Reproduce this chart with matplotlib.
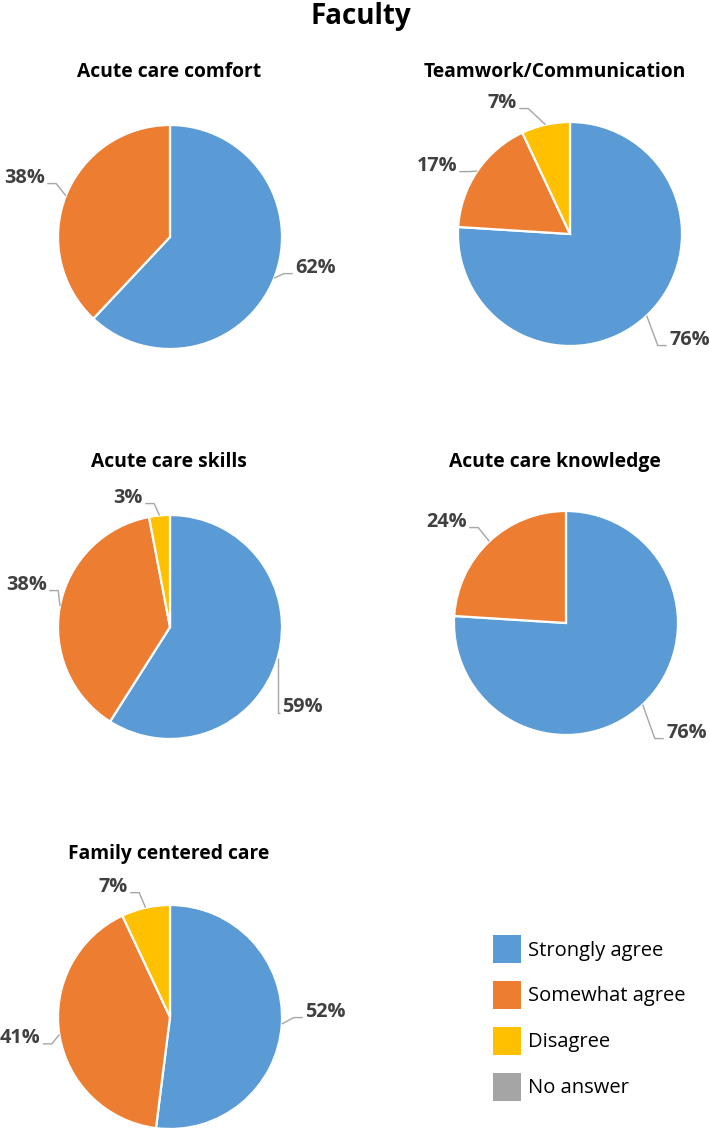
"""
Faculty survey pies: five Excel-style pie charts with a shared legend.
"""

import matplotlib.pyplot as plt
import numpy as np
from matplotlib.patches import Patch

plt.rcParams['font.family'] = ['Open Sans', 'DejaVu Sans']

# Data
categories = ['Strongly agree', 'Somewhat agree', 'Disagree', 'No answer']
colors = ['#5B9BD5', '#ED7D31', '#FFC000', '#A5A5A5']

titles = ['Acute care comfort', 'Teamwork/Communication', 'Acute care skills',
          'Acute care knowledge', 'Family centered care']
comfort = [62, 38]
teamwork = [76, 17, 7]
skills = [59, 38, 3]
knowledge = [76, 24]
family = [52, 41, 7]
series = [comfort, teamwork, skills, knowledge, family]

# Layout (pixels on a 709x1133 canvas)
W, H, DPI = 709, 1133, 100
R = 112          # pie radius in px
HALF = 170       # half size of each pie axes in px
centers = [(170, 237), (570, 234), (170, 627), (566, 623), (170, 1017)]
title_pos = [(169, 77), (555, 77), (169, 467), (555, 467), (169, 859)]
# label text anchor (inner edge, vertical centre) in pie-radius units
label_pos = [
    [(1.116, -0.277), (-1.116, 0.527)],
    [(0.884, -0.946), (-1.009, 0.607), (-0.473, 1.17)],
    [(1.0, -0.714), (-1.098, 0.375), (-0.241, 1.152)],
    [(0.893, -0.982), (-0.884, 0.902)],
    [(1.205, 0.045), (-1.155, -0.19), (-0.375, 1.16)],
]

fig = plt.figure(figsize=(W / DPI, H / DPI), dpi=DPI)

for vals, title, (cx, cy), (tx, ty), lpos in zip(series, titles, centers, title_pos, label_pos):
    ax = fig.add_axes([(cx - HALF) / W, (H - cy - HALF) / H, 2 * HALF / W, 2 * HALF / H])
    ax.pie(vals, colors=colors[:len(vals)], startangle=90, counterclock=False,
           radius=1, wedgeprops=dict(edgecolor='white', linewidth=1.6))
    lim = HALF / R
    ax.set_xlim(-lim, lim)
    ax.set_ylim(-lim, lim)
    ax.set_aspect('equal')
    ax.axis('off')

    # leader lines run from the wedge's mid-angle on the rim to the label
    total = float(sum(vals))
    cum = 0.0
    for v, (u, w) in zip(vals, lpos):
        theta = np.deg2rad(90 - 360 * (cum + v / 2) / total)
        cum += v
        sx, sy = np.cos(theta), np.sin(theta)
        s = 1 if u > 0 else -1
        ly = w - 0.05
        if s > 0:
            ex = max(sx, u - 0.1)
        else:
            ex = min(sx, u + 0.1)
        ax.plot([sx, ex, u - s * 0.02], [sy, ly, ly], color='#A6A6A6', lw=1,
                clip_on=False, solid_capstyle='butt')
        ax.text(u, w, f'{v}%', ha='left' if s > 0 else 'right', va='center',
                fontsize=14.3, fontweight='bold', color='#404040')

    fig.text(tx / W, 1 - ty / H, title, ha='center', va='baseline',
             fontsize=13.9, fontweight='bold', color='black')

fig.text(361 / W, 1 - 24 / H, 'Faculty', ha='center', va='baseline',
         fontsize=20, fontweight='bold', color='black')

handles = [Patch(facecolor=c, edgecolor='none') for c in colors]
fig.legend(handles, categories, loc='upper left', bbox_to_anchor=(493 / W, 1 - 935 / H),
           frameon=False, fontsize=14.5, handlelength=1.39, handleheight=1.76,
           handletextpad=0.35, labelspacing=0.89, borderpad=0, borderaxespad=0)

fig.savefig('out.png', dpi=DPI)
